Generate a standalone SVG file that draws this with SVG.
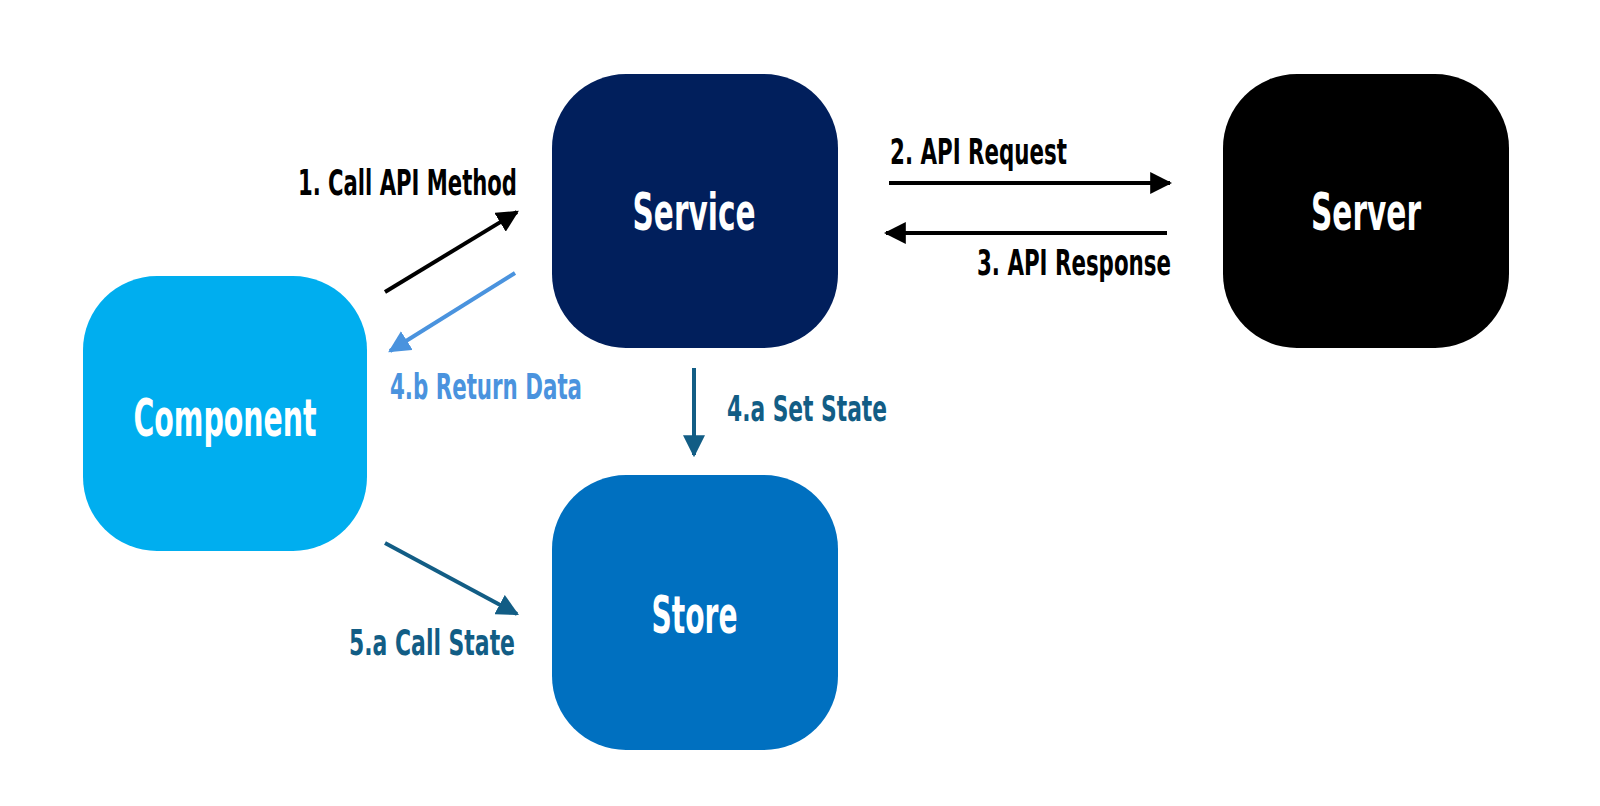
<svg xmlns="http://www.w3.org/2000/svg" width="1600" height="806" viewBox="0 0 1600 806">
<style>
.node{stroke:none}
.nt{font-family:"DejaVu Sans Condensed","Liberation Sans Narrow",Roboto,"Liberation Sans",sans-serif;font-weight:bold;font-size:51px;fill:#fff}
.lb{font-family:"DejaVu Sans Condensed","Liberation Sans Narrow",Roboto,"Liberation Sans",sans-serif;font-weight:bold;font-size:35px}
.c{fill:none;stroke-width:4}
</style>
<defs>
<marker id="ahK" viewBox="0 0 10 10" refX="9" refY="5" markerWidth="5.5" markerHeight="5.5" orient="auto" markerUnits="strokeWidth"><path d="M0,0 L10,5 L0,10 z" fill="#000"/></marker>
<marker id="ahL" viewBox="0 0 10 10" refX="9" refY="5" markerWidth="5.5" markerHeight="5.5" orient="auto" markerUnits="strokeWidth"><path d="M0,0 L10,5 L0,10 z" fill="#4A93DE"/></marker>
<marker id="ahD" viewBox="0 0 10 10" refX="9" refY="5" markerWidth="5.5" markerHeight="5.5" orient="auto" markerUnits="strokeWidth"><path d="M0,0 L10,5 L0,10 z" fill="#125D85"/></marker>
</defs>
<rect width="1600" height="806" fill="#fff"/>
<g id="component"><rect class="node" x="83" y="276" width="284" height="275" rx="74" fill="#00AEEF"/><text class="nt" x="225" y="436" text-anchor="middle" textLength="183" lengthAdjust="spacingAndGlyphs">Component</text></g>
<g id="service"><rect class="node" x="552" y="74" width="286" height="274" rx="74" fill="#011F5C"/><text class="nt" x="694" y="230" text-anchor="middle" textLength="123" lengthAdjust="spacingAndGlyphs">Service</text></g>
<g id="server"><rect class="node" x="1223" y="74" width="286" height="274" rx="74" fill="#000"/><text class="nt" x="1366" y="230" text-anchor="middle" textLength="110" lengthAdjust="spacingAndGlyphs">Server</text></g>
<g id="store"><rect class="node" x="552" y="475" width="286" height="275" rx="74" fill="#0070C0"/><text class="nt" x="694.5" y="633" text-anchor="middle" textLength="86" lengthAdjust="spacingAndGlyphs">Store</text></g>
<g id="connectors">
<line class="c" x1="385" y1="292" x2="517" y2="212" stroke="#000" marker-end="url(#ahK)"/>
<line class="c" x1="515" y1="273" x2="390" y2="351" stroke="#4A93DE" marker-end="url(#ahL)"/>
<line class="c" x1="889" y1="183" x2="1170" y2="183" stroke="#000" marker-end="url(#ahK)"/>
<line class="c" x1="1167" y1="233" x2="886" y2="233" stroke="#000" marker-end="url(#ahK)"/>
<line class="c" x1="694" y1="368" x2="694" y2="455" stroke="#125D85" marker-end="url(#ahD)"/>
<line class="c" x1="385" y1="543" x2="517" y2="614" stroke="#125D85" marker-end="url(#ahD)"/>
<text class="lb" x="298" y="195" fill="#000" textLength="219" lengthAdjust="spacingAndGlyphs">1. Call API Method</text>
<text class="lb" x="890" y="164" fill="#000" textLength="177" lengthAdjust="spacingAndGlyphs">2. API Request</text>
<text class="lb" x="977" y="275" fill="#000" textLength="194" lengthAdjust="spacingAndGlyphs">3. API Response</text>
<text class="lb" x="390" y="399" fill="#4A93DE" textLength="192" lengthAdjust="spacingAndGlyphs">4.b Return Data</text>
<text class="lb" x="727" y="421" fill="#125D85" textLength="160" lengthAdjust="spacingAndGlyphs">4.a Set State</text>
<text class="lb" x="349" y="655" fill="#125D85" textLength="166" lengthAdjust="spacingAndGlyphs">5.a Call State</text>
</g>
</svg>
